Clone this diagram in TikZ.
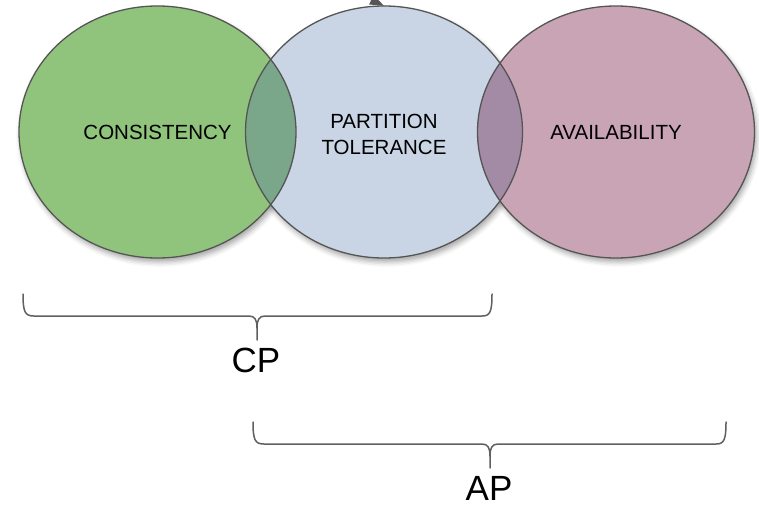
\documentclass[tikz,border=0pt]{standalone}
\usepackage{fontspec}
\setmainfont{Liberation Sans}
\usetikzlibrary{shapes.geometric,shadows.blur,arrows.meta}

\definecolor{consGreen}{HTML}{90C47C}
\definecolor{partBlue}{HTML}{C9D4E4}
\definecolor{availPink}{HTML}{C8A4B4}
\definecolor{cpOverlap}{HTML}{7AA78A}
\definecolor{apOverlap}{HTML}{A38AA5}
\definecolor{rimGray}{HTML}{555555}
\definecolor{braceGray}{HTML}{606060}

\tikzset{
  setbox/.style={ellipse, minimum width=277pt, minimum height=252pt,
    inner sep=0pt, align=center, font=\fontsize{20.5}{26}\selectfont},
  setshadow/.style={blur shadow={shadow xshift=2pt, shadow yshift=-4pt,
      shadow blur radius=5pt, shadow opacity=35}},
  rim/.style={draw=rimGray, line width=1.3pt},
  bracepath/.style={draw=braceGray, line width=1.5pt, line cap=round, line join=round},
  pairlabel/.style={font=\fontsize{35}{40}\selectfont, inner sep=0pt},
  setname/.style={font=\fontsize{20.5}{26}\selectfont, align=center},
}

\begin{document}
\begin{tikzpicture}[x=1pt,y=-1pt]
  \useasboundingbox (0,0) rectangle (759,508);

  % centres of the three sets
  \coordinate (cC) at (157.5,132);
  \coordinate (cP) at (384,132);
  \coordinate (cA) at (616,132);

  % soft shadows, all behind the fills
  \foreach \c in {cC,cP,cA}
    \path[setshadow] (\c) ellipse [x radius=138.5, y radius=126];

  % the three sets
  \node[setbox, fill=consGreen] (cons) at (cC) {};
  \node[setbox, fill=partBlue]  (part) at (cP) {};
  \node[setbox, fill=availPink] (avail) at (cA) {};

  % pairwise overlaps
  \begin{scope}
    \clip (cons.center) ellipse [x radius=138.5, y radius=126];
    \fill[cpOverlap] (part.center) ellipse [x radius=138.5, y radius=126];
  \end{scope}
  \begin{scope}
    \clip (part.center) ellipse [x radius=138.5, y radius=126];
    \fill[apOverlap] (avail.center) ellipse [x radius=138.5, y radius=126];
  \end{scope}

  % outlines on top of every fill
  \path[rim] (cons.center) ellipse [x radius=138.5, y radius=126];
  \path[rim] (part.center) ellipse [x radius=138.5, y radius=126];
  \path[rim] (avail.center) ellipse [x radius=138.5, y radius=126];

  % set names
  \node[setname] (consText) at (cons.center) {CONSISTENCY};
  \node[setname] (partText) at (384,134) {PARTITION\\TOLERANCE};
  \node[setname] (availText) at (avail.center) {AVAILABILITY};

  % incoming arrow at the top of the middle set
  \coordinate (arrowFrom) at (338,-16);
  \draw[draw=rimGray, line width=1.3pt, -{Triangle[length=14pt,width=10pt]}]
    (arrowFrom) -- (part.north);

  % brace under C and P
  \coordinate (cpTip) at (257,340);
  \path[bracepath] (23,294) .. controls (23,312) and (25,316) .. (34,316)
    -- (249,316) .. controls (255,316) and (257,320) .. (257,328)
    -- (cpTip);
  \path[bracepath] (257,328) .. controls (257,320) and (259,316) .. (265,316)
    -- (482,316) .. controls (490,316) and (492,312) .. (492,294);
  \node[pairlabel, anchor=north] (cp) at (256,348) {CP};

  % brace under A and P
  \coordinate (apTip) at (490,468);
  \path[bracepath] (253,422) .. controls (253,440) and (255,444) .. (264,444)
    -- (482,444) .. controls (488,444) and (490,448) .. (490,456)
    -- (apTip);
  \path[bracepath] (490,456) .. controls (490,448) and (492,444) .. (498,444)
    -- (716,444) .. controls (724,444) and (726,440) .. (726,422);
  \node[pairlabel, anchor=north] (ap) at (489,476) {AP};
\end{tikzpicture}
\end{document}
